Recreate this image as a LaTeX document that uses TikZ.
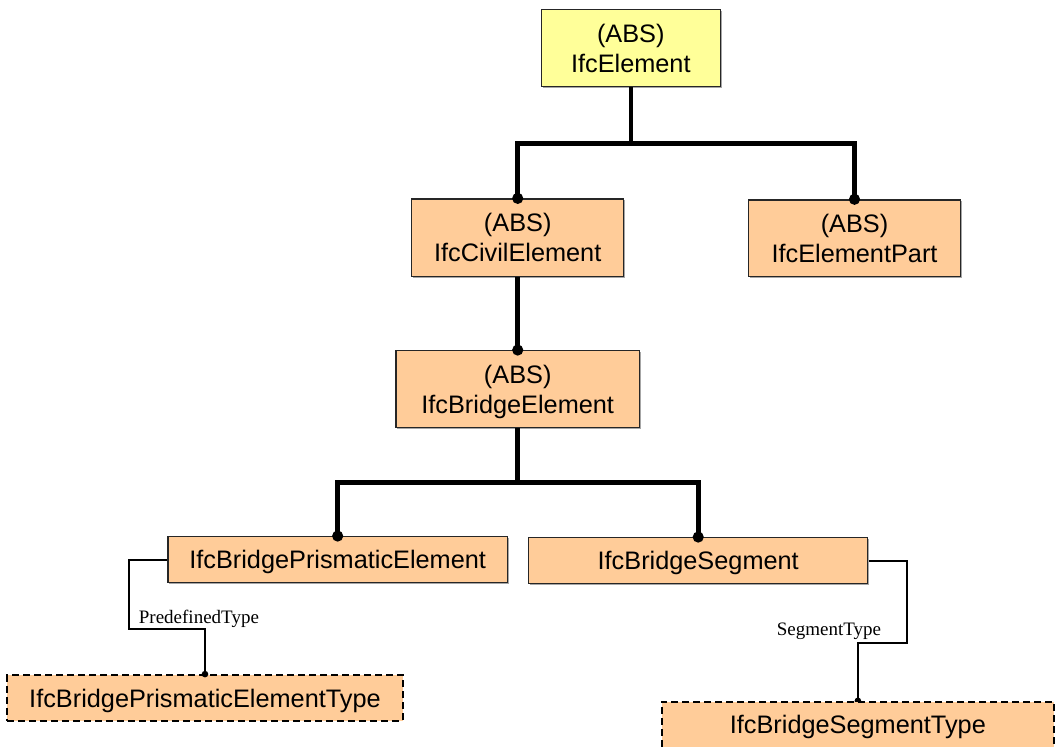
\documentclass[tikz,border=0pt]{standalone}
\usepackage{fontspec}
\setmainfont{Liberation Sans}
\newfontfamily\labelserif{Liberation Serif}
\usetikzlibrary{shadows,backgrounds}
\definecolor{peach}{HTML}{FFCC99}
\definecolor{paleyellow}{HTML}{FFFF99}
\tikzset{
  boxbase/.style={rectangle, draw=black!85, line width=1.3pt, inner sep=0pt, align=center,
    font=\fontsize{25.3}{30}\selectfont,
    drop shadow={shadow xshift=1.3pt, shadow yshift=-1.3pt, fill=black!35, opacity=1}},
  absbox/.style={boxbase, fill=peach, text height=48.4pt, text depth=0pt},
  rootbox/.style={boxbase, fill=paleyellow, text height=48.4pt, text depth=0pt},
  onebox/.style={boxbase, fill=peach, text height=18.3pt, text depth=0pt},
  typebox/.style={rectangle, draw=black, line width=1.8pt, dash pattern=on 7pt off 4pt,
    fill=peach, inner sep=0pt, font=\fontsize{25.3}{30}\selectfont, text height=18.3pt, text depth=0pt},
  inherit/.style={line width=4.6pt, draw=black},
  attrline/.style={line width=2pt, draw=black},
  attrlabel/.style={inner sep=0pt, anchor=base west, font=\labelserif\fontsize{19}{22}\selectfont},
}
\begin{document}
\begin{tikzpicture}[x=1pt,y=-1pt]
\useasboundingbox (0,0) rectangle (1056,746);
% boxes
\node[rootbox, minimum width=179pt, minimum height=77.4pt] (elem) at (630.8,48) {(ABS)\\IfcElement};
\node[absbox, minimum width=212pt, minimum height=77.3pt] (civ) at (517.7,237.7) {(ABS)\\IfcCivilElement};
\node[absbox, minimum width=212.4pt, minimum height=76.7pt] (part) at (854.5,238.3) {(ABS)\\IfcElementPart};
\node[absbox, minimum width=243.7pt, minimum height=77pt] (bel) at (517.7,389.2) {(ABS)\\IfcBridgeElement};
\node[onebox, minimum width=339.3pt, minimum height=46pt] (pris) at (337.65,559.7) {IfcBridgePrismaticElement};
\node[onebox, minimum width=339pt, minimum height=45.6pt] (seg) at (698.2,560.5) {IfcBridgeSegment};
\node[typebox, minimum width=395.4pt, minimum height=45.7pt] (ptype) at (205,697.85) {IfcBridgePrismaticElementType};
\node[typebox, minimum width=392.3pt, minimum height=45.8pt] (stype) at (857.85,724.6) {IfcBridgeSegmentType};
% inheritance connectors
\draw[inherit] (elem.south) -- ++(0,56.3) coordinate (j1);
\draw[inherit] (civ.north) |- (j1) -| (part.north);
\draw[inherit] (civ.south) -- (bel.north);
\draw[inherit] (bel.south) -- ++(0,54) coordinate (j2);
\draw[inherit] (pris.north) |- (j2) -| (seg.north);
\foreach \n in {civ,part,bel,pris,seg} \fill (\n.north) circle (5.6pt);
% attribute connectors
\coordinate (pb) at (129,628.7);
\coordinate (sb) at (906.7,642.7);
\draw[attrline] (pris.west) -| (pb) -| (ptype.north);
\fill (ptype.north) circle (3.3pt);
\begin{scope}[on background layer]
\draw[attrline] (seg.east) -| (sb) -| (stype.north);
\fill (stype.north) circle (3.3pt);
\end{scope}
\node[attrlabel] (lpre) at (138.7,623) {PredefinedType};
\node[attrlabel] (lseg) at (776.7,635) {SegmentType};
\end{tikzpicture}
\end{document}
